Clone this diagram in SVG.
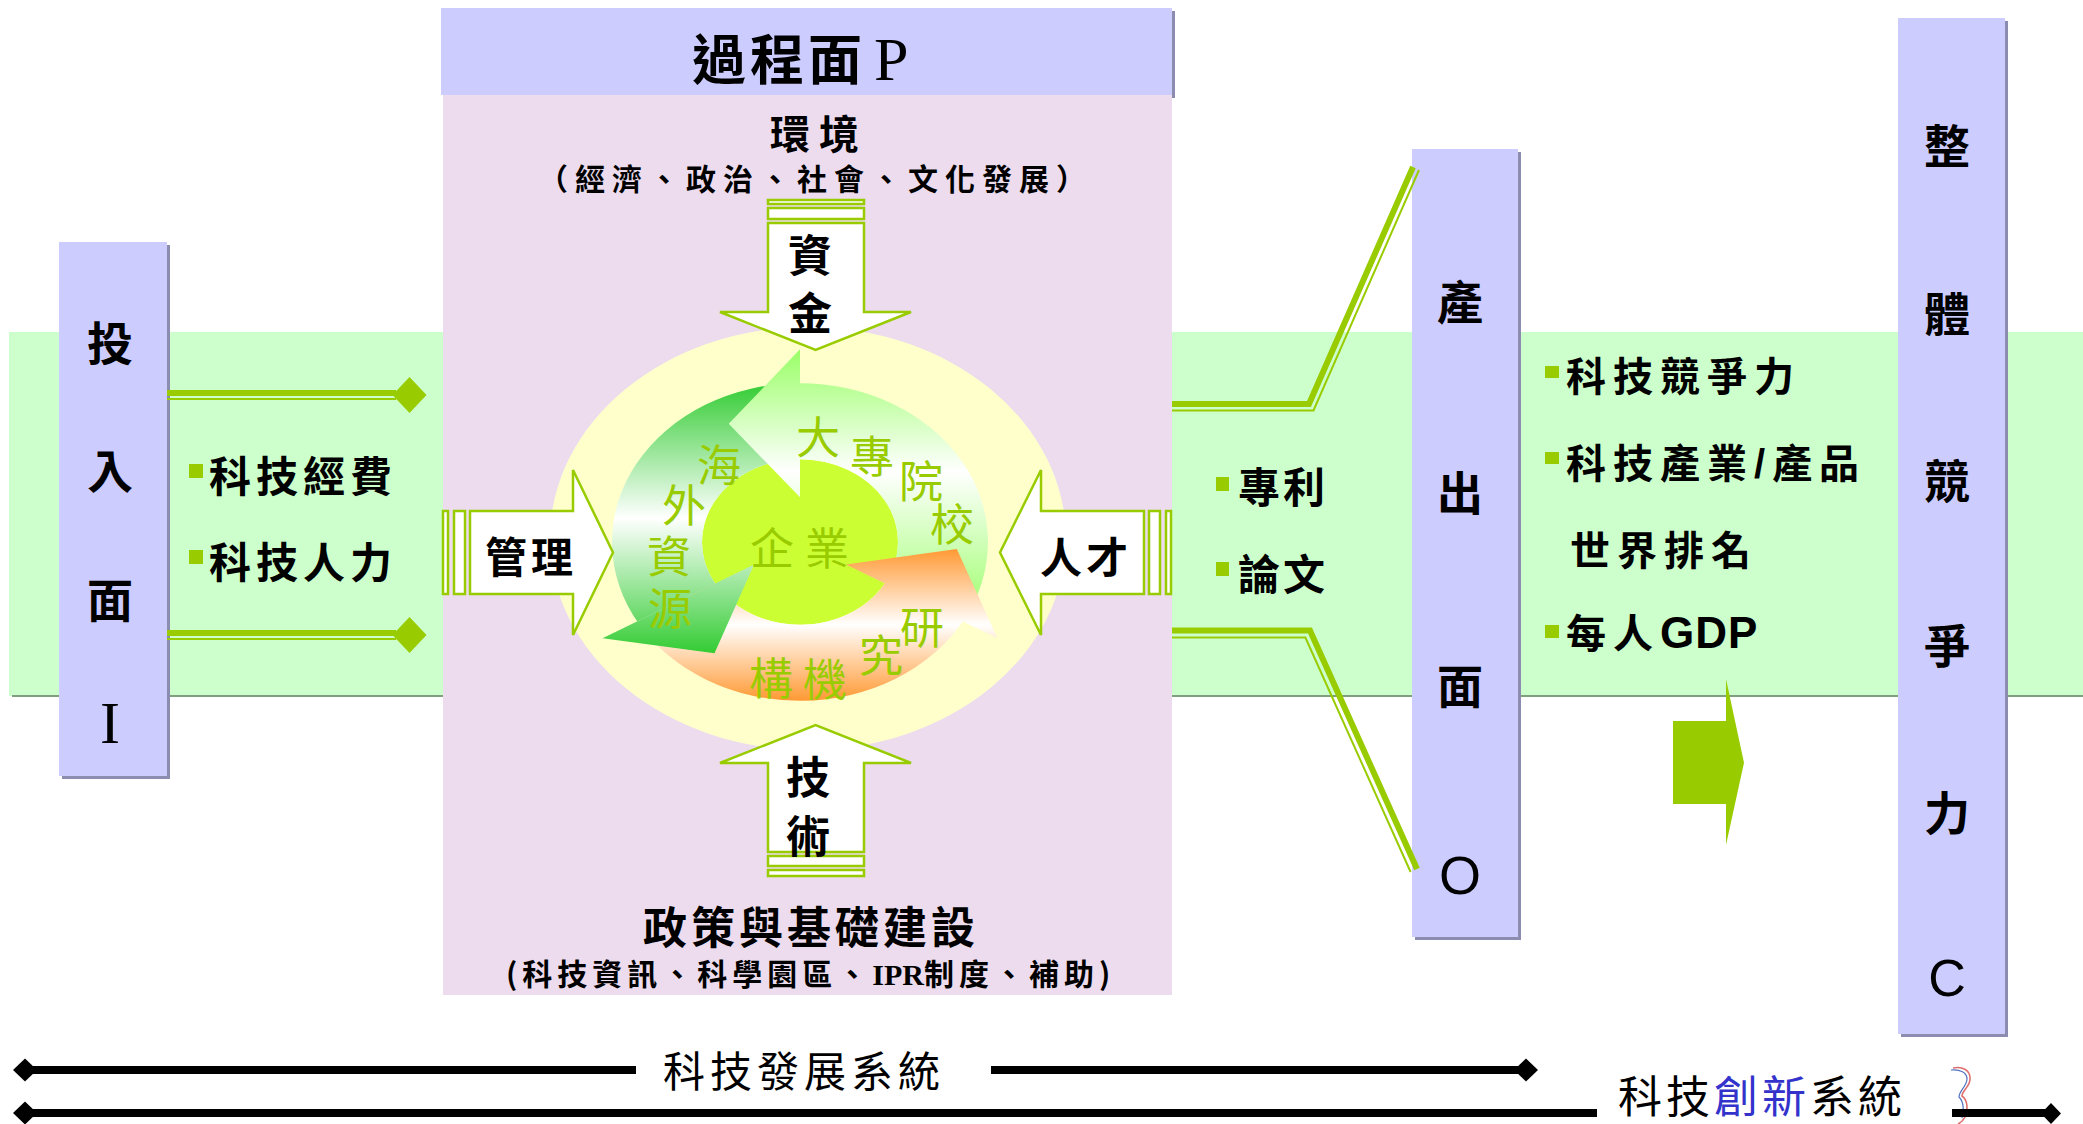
<svg xmlns="http://www.w3.org/2000/svg" width="2083" height="1124" viewBox="0 0 2083 1124">
<defs>
<style>
  text { font-family: "Noto Sans CJK TC", "Noto Sans CJK JP", sans-serif; fill: #000; }
  .b { font-weight: 700; }
  .v { font-size: 46px; font-weight: 700; text-anchor: middle; }
  .cy { font-size: 44px; fill: #99cc00; text-anchor: middle; }
  .serif { font-family: "Liberation Serif", serif; }
  .sans { font-family: "Liberation Sans", sans-serif; }
  .box { fill: #ccccff; }
  .shadow { fill: #8c8cb0; }
  .wa { fill: #ffffff; stroke: #99cc00; stroke-width: 2.5; }
  .gl { fill: none; stroke: #99cc00; stroke-linejoin: miter; }
  .thick { stroke-width: 6; }
  .thin { stroke-width: 2; }
  .bul { fill: #99cc00; }
  .bl { stroke: #000; stroke-width: 8; }
  .item { font-size: 42px; font-weight: 700; }
</style>
<linearGradient id="gLight" gradientUnits="userSpaceOnUse" x1="0" y1="-228" x2="0" y2="94">
  <stop offset="0" stop-color="#99ff66"/>
  <stop offset="0.45" stop-color="#ffffff"/>
  <stop offset="1" stop-color="#99ff66"/>
</linearGradient>
<linearGradient id="gDark" gradientUnits="userSpaceOnUse" x1="0" y1="-188" x2="0" y2="132">
  <stop offset="0" stop-color="#33cc33"/>
  <stop offset="0.5" stop-color="#ffffff"/>
  <stop offset="1" stop-color="#33cc33"/>
</linearGradient>
<linearGradient id="gOrange" gradientUnits="userSpaceOnUse" x1="0" y1="8" x2="0" y2="188">
  <stop offset="0" stop-color="#ff9933"/>
  <stop offset="0.5" stop-color="#ffffff"/>
  <stop offset="1" stop-color="#ff9933"/>
</linearGradient>
</defs>

<rect width="2083" height="1124" fill="#ffffff"/>

<!-- green background band -->
<g id="band">
  <rect x="9" y="332" width="2074" height="364" fill="#ccffcc"/>
  <line x1="12" y1="696" x2="2083" y2="696" stroke="#7f9f7f" stroke-width="2"/>
</g>

<!-- input side -->
<g id="node-input">
  <rect class="shadow" x="62" y="245" width="108" height="534"/>
  <rect class="box" x="59" y="242" width="108" height="534"/>
  <text class="v" x="110" y="359.5">投</text>
  <text class="v" x="110" y="487.5">入</text>
  <text class="v" x="110" y="616.5">面</text>
  <text class="serif" x="110" y="743" font-size="60" text-anchor="middle">I</text>
</g>

<g id="node-input-items">
  <rect class="bul" x="189" y="464" width="14" height="14"/>
  <text class="item" x="209" y="491.5" letter-spacing="5">科技經費</text>
  <rect class="bul" x="189" y="550" width="14" height="14"/>
  <text class="item" x="209" y="577.5" letter-spacing="5">科技人力</text>
</g>

<!-- process panel -->
<g id="node-process">
  <rect class="shadow" x="444" y="11" width="731" height="87"/>
  <rect class="box" x="441" y="8" width="731" height="87"/>
  <rect x="443" y="95" width="729" height="900" fill="#ecdcee"/>
  <text x="692" y="80" font-size="54" font-weight="700" letter-spacing="4">過程面<tspan class="serif" x="874" font-size="62" font-weight="400" letter-spacing="0">P</tspan></text>
  <text x="770" y="149" font-size="40" font-weight="700" letter-spacing="9">環境</text>
  <text x="538" y="190" font-size="30" font-weight="700" letter-spacing="7">（經濟、政治、社會、文化發展）</text>
  <text x="643" y="944" font-size="44" font-weight="700" letter-spacing="4">政策與基礎建設</text>
  <text x="506" y="985" font-size="30" font-weight="700" letter-spacing="5">(科技資訊、科學園區、<tspan class="serif" font-weight="700" letter-spacing="0">IPR</tspan>制度、補助)</text>
</g>

<g id="node-environment-halo">
  <ellipse cx="808" cy="538.5" rx="258" ry="211.5" fill="#ffffcc"/>
</g>

<!-- enterprise cycle -->
<g id="node-cycle">
  <g transform="translate(800 542) scale(1 0.845)">
    <circle r="98" fill="#ccff33"/>
    <path fill="url(#gLight)" d="M162.81 94 A188 188 0 0 0 -3.28 -187.97 L-1.71 -97.99 A98 98 0 0 1 84.87 49 Z"/>
    <path fill="url(#gDark)" d="M0 -188 A188 188 0 0 0 -161.15 96.83 L-84 50.47 A98 98 0 0 1 0 -98 Z"/>
    <path fill="url(#gOrange)" d="M-162.81 94 A188 188 0 0 0 164.43 91.14 L85.71 47.51 A98 98 0 0 1 -84.87 49 Z"/>
    <path fill="url(#gLight)" d="M0 -228 L-71.28 -139.89 L0 -53 Z"/>
    <path fill="url(#gDark)" d="M-197.45 114 L-85.51 131.67 L-45.9 26.5 Z"/>
    <path fill="url(#gOrange)" d="M197.45 114 L156.78 8.22 L45.9 26.5 Z"/>
  </g>
  <text class="cy" x="772" y="565">企</text>
  <text class="cy" x="827" y="565">業</text>
  <text class="cy" x="818" y="454">大</text>
  <text class="cy" x="872" y="473">專</text>
  <text class="cy" x="921" y="498">院</text>
  <text class="cy" x="952" y="541">校</text>
  <text class="cy" x="719" y="482">海</text>
  <text class="cy" x="684" y="522">外</text>
  <text class="cy" x="669" y="573">資</text>
  <text class="cy" x="670" y="625">源</text>
  <text class="cy" x="922" y="644">研</text>
  <text class="cy" x="881" y="672">究</text>
  <text class="cy" x="825" y="696">機</text>
  <text class="cy" x="771" y="695">構</text>
</g>

<!-- driving forces into the cycle -->
<g id="node-capital">
  <rect class="wa" x="768" y="200" width="96" height="4"/>
  <rect class="wa" x="768" y="208" width="96" height="11"/>
  <path class="wa" d="M768 223 V312 H720 L815.6 350 L911 312 H864 V223 Z"/>
  <text class="b" x="810" y="272" font-size="44" text-anchor="middle">資</text>
  <text class="b" x="810" y="330" font-size="44" text-anchor="middle">金</text>
</g>

<g id="node-technology">
  <path class="wa" d="M768 852 V763 H720 L815.6 725 L911 763 H864 V852 Z"/>
  <rect class="wa" x="768" y="856" width="96" height="10"/>
  <rect class="wa" x="768" y="870" width="96" height="6"/>
  <text class="b" x="808" y="794" font-size="44" text-anchor="middle">技</text>
  <text class="b" x="808" y="853" font-size="44" text-anchor="middle">術</text>
</g>

<g id="node-management">
  <rect class="wa" x="443" y="511" width="5" height="83"/>
  <rect class="wa" x="454" y="511" width="11" height="83"/>
  <path class="wa" d="M470 511 H573 V470 L613 552.5 L573 635 V594 H470 Z"/>
  <text class="b" x="485" y="573" font-size="42" letter-spacing="4">管理</text>
</g>

<g id="node-talent">
  <rect class="wa" x="1166" y="511" width="5" height="83"/>
  <rect class="wa" x="1149" y="511" width="11" height="83"/>
  <path class="wa" d="M1144 511 H1041 V470 L1000 552.5 L1041 635 V594 H1144 Z"/>
  <text class="b" x="1040" y="573" font-size="42" letter-spacing="4">人才</text>
</g>

<!-- output side -->
<g id="node-output-items">
  <rect class="bul" x="1216" y="477" width="13" height="14"/>
  <text class="item" x="1238" y="503" letter-spacing="3">專利</text>
  <rect class="bul" x="1216" y="562" width="13" height="14"/>
  <text class="item" x="1238" y="589.5" letter-spacing="3">論文</text>
</g>

<g id="node-output">
  <rect class="shadow" x="1415" y="152" width="106" height="788"/>
  <rect class="box" x="1412" y="149" width="106" height="788"/>
  <text class="v" x="1460" y="318.5">產</text>
  <text class="v" x="1460" y="509.5">出</text>
  <text class="v" x="1460" y="702.5">面</text>
  <text class="sans" x="1460" y="894" font-size="54" text-anchor="middle">O</text>
</g>

<g id="node-competitiveness-items">
  <rect class="bul" x="1545" y="366" width="14" height="12"/>
  <text x="1566" y="391" font-size="40" font-weight="700" letter-spacing="7">科技競爭力</text>
  <rect class="bul" x="1545" y="452" width="14" height="12"/>
  <text x="1566" y="478" font-size="40" font-weight="700" letter-spacing="7">科技產業<tspan class="sans" font-weight="700">/</tspan>產品</text>
  <text x="1570" y="565" font-size="40" font-weight="700" letter-spacing="7">世界排名</text>
  <rect class="bul" x="1545" y="625" width="14" height="13"/>
  <text x="1566" y="648" font-size="40" font-weight="700" letter-spacing="7">每人<tspan class="sans" font-size="44" font-weight="700" letter-spacing="1">GDP</tspan></text>
</g>

<g id="node-competitiveness">
  <rect class="shadow" x="1901" y="21" width="107" height="1016"/>
  <rect class="box" x="1898" y="18" width="107" height="1016"/>
  <text class="v" x="1947" y="162.5">整</text>
  <text class="v" x="1947" y="330.5">體</text>
  <text class="v" x="1947" y="497.5">競</text>
  <text class="v" x="1947" y="662.5">爭</text>
  <text class="v" x="1947" y="829.5">力</text>
  <text class="sans" x="1947" y="995.5" font-size="52" text-anchor="middle">C</text>
</g>

<!-- system labels -->
<g id="node-development-system">
  <text x="663" y="1087" font-size="42" letter-spacing="5">科技發展系統</text>
</g>
<g id="node-innovation-system">
  <text x="1618" y="1113" font-size="44" letter-spacing="4">科技<tspan fill="#3333cc">創新</tspan>系統</text>
  <path d="M1953 1068 C1962 1066 1970 1070 1970 1078 C1971 1086 1962 1090 1962 1096 C1968 1100 1968 1110 1965 1117 C1963 1121 1960 1123 1958 1124" fill="none" stroke="#e07070" stroke-width="1.6"/>
  <path d="M1951 1070 C1959 1069 1967 1072 1967 1079 C1967 1086 1959 1091 1959 1097 C1964 1102 1964 1111 1962 1118" fill="none" stroke="#5070c0" stroke-width="1.2"/>
</g>

<!-- connectors -->
<g id="connectors">
  <!-- input to process -->
  <line class="gl thick" x1="167" y1="393" x2="396" y2="393"/>
  <line class="gl thin" x1="167" y1="399" x2="396" y2="399"/>
  <polygon class="bul" points="392.5,395 409.5,377 426.5,395 409.5,413"/>
  <line class="gl thick" x1="167" y1="633" x2="396" y2="633"/>
  <line class="gl thin" x1="167" y1="639" x2="396" y2="639"/>
  <polygon class="bul" points="392.5,635 409.5,617 426.5,635 409.5,653"/>

  <!-- process to output -->
  <polyline class="gl thick" points="1172,404 1309,404 1413,167"/>
  <polyline class="gl thin" points="1172,410.5 1313.5,410.5 1419,170"/>
  <polyline class="gl thick" points="1172,630.5 1310,630.5 1417,869"/>
  <polyline class="gl thin" points="1172,637.5 1305.4,637.5 1410.6,872"/>

  <!-- output to competitiveness -->
  <polygon class="bul" points="1673,721 1726,721 1726,679 1744,762.7 1726,845 1726,804 1673,804"/>

  <!-- system extents -->
  <line class="bl" x1="25" y1="1070" x2="636" y2="1070"/>
  <line class="bl" x1="991" y1="1070" x2="1526" y2="1070"/>
  <polygon points="13,1070 25,1058.5 37,1070 25,1081.5"/>
  <polygon points="1514,1070 1526,1058.5 1538,1070 1526,1081.5"/>
  <line class="bl" x1="25" y1="1113" x2="1597" y2="1113"/>
  <line class="bl" x1="1952" y1="1113" x2="2051" y2="1113"/>
  <polygon points="13,1113 25,1101.5 37,1113 25,1124.5"/>
  <polygon points="2041,1113.5 2051,1103 2061,1113.5 2051,1124"/>
</g>
</svg>
